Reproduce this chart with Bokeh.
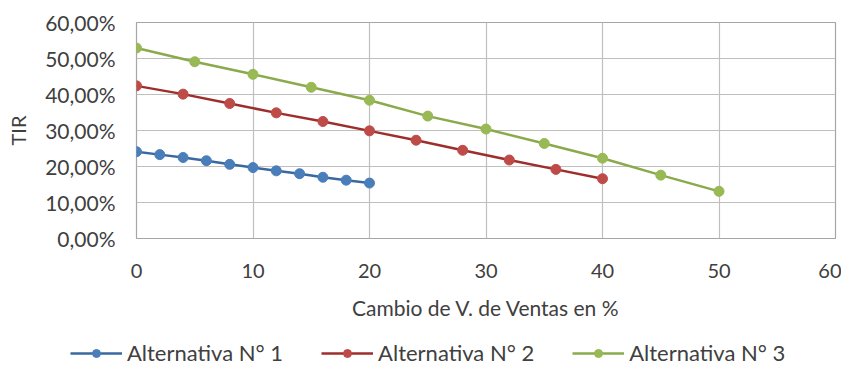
from bokeh.plotting import figure
from bokeh.models import Range1d, FixedTicker, Legend, LegendItem
from bokeh.layouts import column, row
from bokeh.embed import file_html
from bokeh.resources import INLINE

# Data
x_alt1 = [0, 2, 4, 6, 8, 10, 12, 14, 16, 18, 20]
y_alt1 = [24.1, 23.3, 22.5, 21.6, 20.6, 19.7, 18.8, 18.0, 17.0, 16.2, 15.4]
x_alt2 = [0, 4, 8, 12, 16, 20, 24, 28, 32, 36, 40]
y_alt2 = [42.4, 40.1, 37.5, 34.9, 32.5, 29.9, 27.3, 24.5, 21.8, 19.2, 16.6]
x_alt3 = [0, 5, 10, 15, 20, 25, 30, 35, 40, 45, 50]
y_alt3 = [52.9, 49.1, 45.6, 42.0, 38.4, 34.0, 30.4, 26.4, 22.3, 17.6, 13.1]
series_names = ["Alternativa N° 1", "Alternativa N° 2", "Alternativa N° 3"]
x_ticks = [0, 10, 20, 30, 40, 50, 60]
y_ticks = [0, 10, 20, 30, 40, 50, 60]
y_tick_labels = ["0,00%", "10,00%", "20,00%", "30,00%", "40,00%", "50,00%", "60,00%"]

FONT = "Lato"
TXT = "#404040"

p = figure(width=841, height=330, output_backend="svg", toolbar_location=None,
           x_range=Range1d(0, 60), y_range=Range1d(0, 60),
           min_border_left=136, min_border_right=6, min_border_top=22, min_border_bottom=92)

p.outline_line_color = "#A6A6A6"
p.outline_line_width = 1.2
for g in (p.xgrid[0], p.ygrid[0]):
    g.grid_line_color = "#BFBFBF"
    g.grid_line_width = 1.2

p.xaxis.ticker = FixedTicker(ticks=x_ticks)
p.yaxis.ticker = FixedTicker(ticks=y_ticks)
p.yaxis.major_label_overrides = {t: l for t, l in zip(y_ticks, y_tick_labels)}

for ax in (p.xaxis[0], p.yaxis[0]):
    ax.axis_line_color = None
    ax.major_tick_line_color = None
    ax.minor_tick_line_color = None
    ax.major_tick_out = 0
    ax.major_tick_in = 0
    ax.minor_tick_out = 0
    ax.major_label_text_font = FONT
    ax.major_label_text_color = TXT
    ax.axis_label_text_font = FONT
    ax.axis_label_text_font_style = "normal"
    ax.axis_label_text_color = TXT

p.xaxis.axis_label = "Cambio de V. de Ventas en %"
p.xaxis.major_label_text_font_size = "20px"
p.xaxis.axis_label_text_font_size = "21px"
p.xaxis.major_label_standoff = 25
p.xaxis.axis_label_standoff = 14
p.yaxis.axis_label = "TIR"
p.yaxis.major_label_text_font_size = "21px"
p.yaxis.axis_label_text_font_size = "20px"
p.yaxis.major_label_standoff = 21
p.yaxis.axis_label_standoff = 12

colors_line = ["#3A68A0", "#9E2E2B", "#8AAA4C"]
colors_mark = ["#4A7EBB", "#BE4B48", "#98B954"]
data = [(x_alt1, y_alt1), (x_alt2, y_alt2), (x_alt3, y_alt3)]

for (xs, ys), cl, cm in zip(data, colors_line, colors_mark):
    p.line(xs, ys, line_color=cl, line_width=2.5)
    p.scatter(xs, ys, marker="circle", size=10, fill_color=cm, line_color=cm)

# Legend strip below the chart (placeholder renderers draw nothing; only their legend swatches show)
NAN = [float("nan")]
pl = figure(width=841, height=52, output_backend="svg", toolbar_location=None,
            x_axis_location=None, y_axis_location=None,
            x_range=Range1d(0, 1), y_range=Range1d(0, 1),
            min_border_left=0, min_border_right=0, min_border_top=0, min_border_bottom=0)
pl.grid.visible = False
pl.outline_line_color = None
items = []
for cl, cm, name in zip(colors_line, colors_mark, series_names):
    r1 = pl.line(NAN, NAN, line_color=cl, line_width=2.5)
    r2 = pl.scatter(NAN, NAN, marker="circle", size=9, fill_color=cm, line_color=cm)
    items.append(LegendItem(label=name, renderers=[r1, r2]))

legend = Legend(items=items, orientation="horizontal", location=(70, 16),
                glyph_width=52, glyph_height=20, label_standoff=5, spacing=38,
                padding=0, margin=0, border_line_color=None, background_fill_alpha=0,
                label_text_font=FONT, label_text_font_size="22px", label_text_color=TXT)
pl.add_layout(legend, "center")

open("out.html", "w").write(file_html(column(p, row(pl), spacing=0), INLINE))
